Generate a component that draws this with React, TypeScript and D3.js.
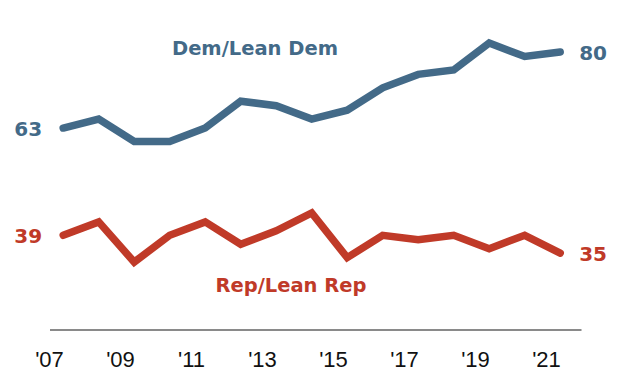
import React, { useEffect, useRef } from 'react';
import * as d3 from 'd3';

// survey years (fieldwork around May each year)
const years = [2007, 2008, 2009, 2010, 2011, 2012, 2013, 2014, 2015, 2016, 2017, 2018, 2019, 2020, 2021];
const surveyOffset = 0.4;
const demValues = [63, 65, 60, 60, 63, 69, 68, 65, 67, 72, 75, 76, 82, 79, 80];
const repValues = [39, 42, 33, 39, 42, 37, 40, 44, 34, 39, 38, 39, 36, 39, 35];
const tickYears = [2007, 2009, 2011, 2013, 2015, 2017, 2019, 2021];

const DEM = '#436a88';
const REP = '#c03a28';
const BOLD_FONT = 'DejaVu Sans, Verdana, sans-serif';

export default function App() {
  const ref = useRef<SVGSVGElement>(null);

  useEffect(() => {
    const svg = d3.select(ref.current);
    svg.selectAll('*').remove();

    const x = d3.scaleLinear().domain([2007, 2021]).range([49, 546]);
    const y = d3.scaleLinear().domain([30, 85]).range([275.5, 29.7]);

    // baseline
    svg.append('line')
      .attr('x1', x(2007) + 1).attr('x2', x(2022))
      .attr('y1', 330).attr('y2', 330)
      .attr('stroke', '#8a8a8a').attr('stroke-width', 2);

    // x axis labels
    const axis = d3.axisBottom(x)
      .tickValues(tickYears)
      .tickSize(0)
      .tickPadding(0)
      .tickFormat((d) => "'" + String(d).slice(2));
    const g = svg.append('g').attr('transform', 'translate(0,351)').call(axis);
    g.select('.domain').remove();
    g.selectAll('text')
      .attr('dy', '0.71em')
      .attr('font-family', 'Liberation Sans, Arial, sans-serif')
      .attr('font-size', 22)
      .attr('fill', '#111');

    const line = d3.line<number>()
      .x((_, i) => x(years[i] + surveyOffset))
      .y((d) => y(d));

    const series = [
      { values: demValues, color: DEM },
      { values: repValues, color: REP },
    ];
    series.forEach((s) => {
      svg.append('path')
        .datum(s.values)
        .attr('fill', 'none')
        .attr('stroke', s.color)
        .attr('stroke-width', 7.5)
        .attr('stroke-linejoin', 'miter')
        .attr('stroke-linecap', 'round')
        .attr('d', line);

      const first = s.values[0];
      const last = s.values[s.values.length - 1];
      svg.append('text')
        .attr('x', x(years[0] + surveyOffset) - 21)
        .attr('y', y(first) + 8)
        .attr('text-anchor', 'end')
        .attr('font-family', BOLD_FONT)
        .attr('font-weight', 700)
        .attr('font-size', 20)
        .attr('fill', s.color)
        .text(first);
      svg.append('text')
        .attr('x', x(years[years.length - 1] + surveyOffset) + 19)
        .attr('y', y(last) + 8)
        .attr('font-family', BOLD_FONT)
        .attr('font-weight', 700)
        .attr('font-size', 20)
        .attr('fill', s.color)
        .text(last);
    });

    // series labels
    svg.append('text')
      .attr('x', 255).attr('y', 55)
      .attr('text-anchor', 'middle')
      .attr('font-family', BOLD_FONT)
      .attr('font-weight', 700)
      .attr('font-size', 19.5)
      .attr('fill', DEM)
      .text('Dem/Lean Dem');
    svg.append('text')
      .attr('x', 291).attr('y', 292)
      .attr('text-anchor', 'middle')
      .attr('font-family', BOLD_FONT)
      .attr('font-weight', 700)
      .attr('font-size', 19.5)
      .attr('fill', REP)
      .text('Rep/Lean Rep');
  }, []);

  return (
    <svg ref={ref} width={620} height={386}
      style={{ position: 'absolute', left: 0, top: 0, background: '#fff' }} />
  );
}
